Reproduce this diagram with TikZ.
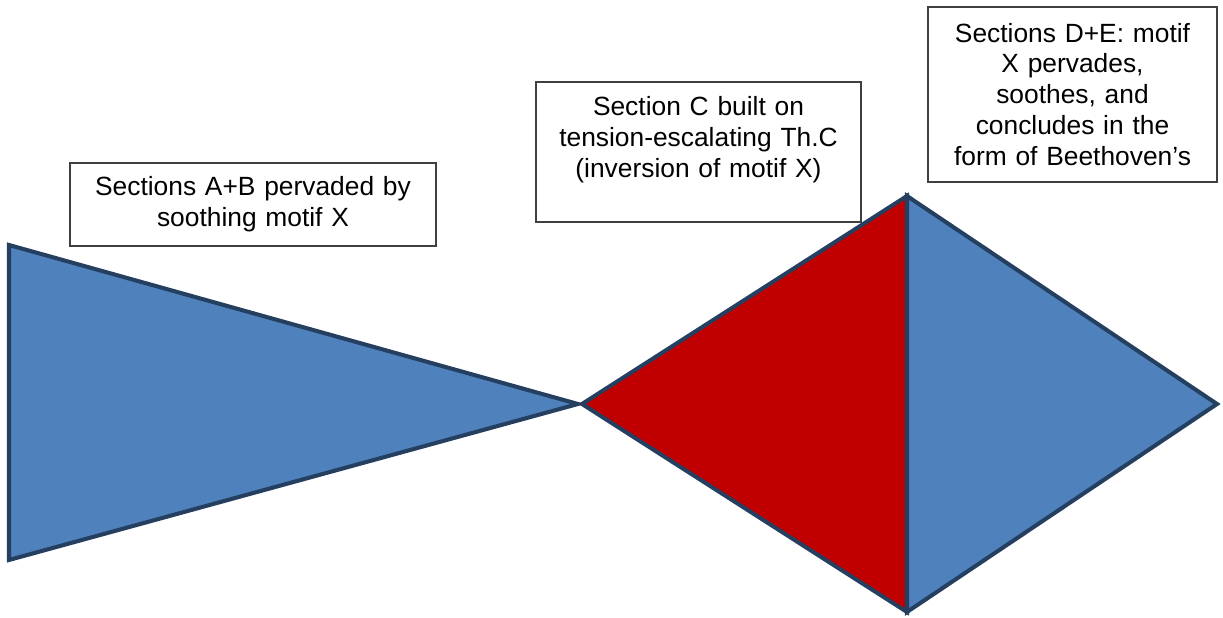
\documentclass[tikz,border=0pt]{standalone}
\usepackage{fontspec}
\setmainfont{Liberation Sans}
\usepackage{xcolor}
\definecolor{motifblue}{HTML}{4F81BD}
\definecolor{tensionred}{HTML}{C00000}
\definecolor{edgeblue}{HTML}{243F60}
\tikzset{%
    section/.style={%
        line width=1.15pt, draw=edgeblue, line join=miter
    },
    label box/.style={%
        draw=black!75, line width=0.45pt, fill=white, align=center,
        inner xsep=0.08cm, inner ysep=0.05cm,
        font=\fontsize{7.5}{8.8}\selectfont
    }
}

\begin{document}
\begin{tikzpicture}
\useasboundingbox (0,0) rectangle (12.23,6.18);

% sections A+B
\filldraw[section, fill=motifblue] (0.09,3.73) -- (0.09,0.58) -- (5.78,2.14) -- cycle;
% section C
\filldraw[section, fill=tensionred] (5.82,2.14) -- (9.07,4.22) -- (9.07,0.06) -- cycle;
% sections D+E
\filldraw[section, fill=motifblue] (9.07,4.22) -- (9.07,0.06) -- (12.17,2.14) -- cycle;

\node[label box, text width=3.5cm, minimum height=0.83cm] (secAB) at (2.53,4.135)
    {Sections A+B pervaded by\\ soothing motif X};
\node[label box, text width=3.09cm, minimum height=1.40cm] (secC) at (6.985,4.66)
    {Section C built on\\ tension-escalating Th.C\\ (inversion of motif X)\\ \mbox{}};
\node[label box, text width=2.73cm, minimum height=1.75cm] (secDE) at (10.725,5.235)
    {Sections D+E: motif\\ X pervades,\\ soothes, and\\ concludes in the\\ form of Beethoven’s};
\end{tikzpicture}
\end{document}
